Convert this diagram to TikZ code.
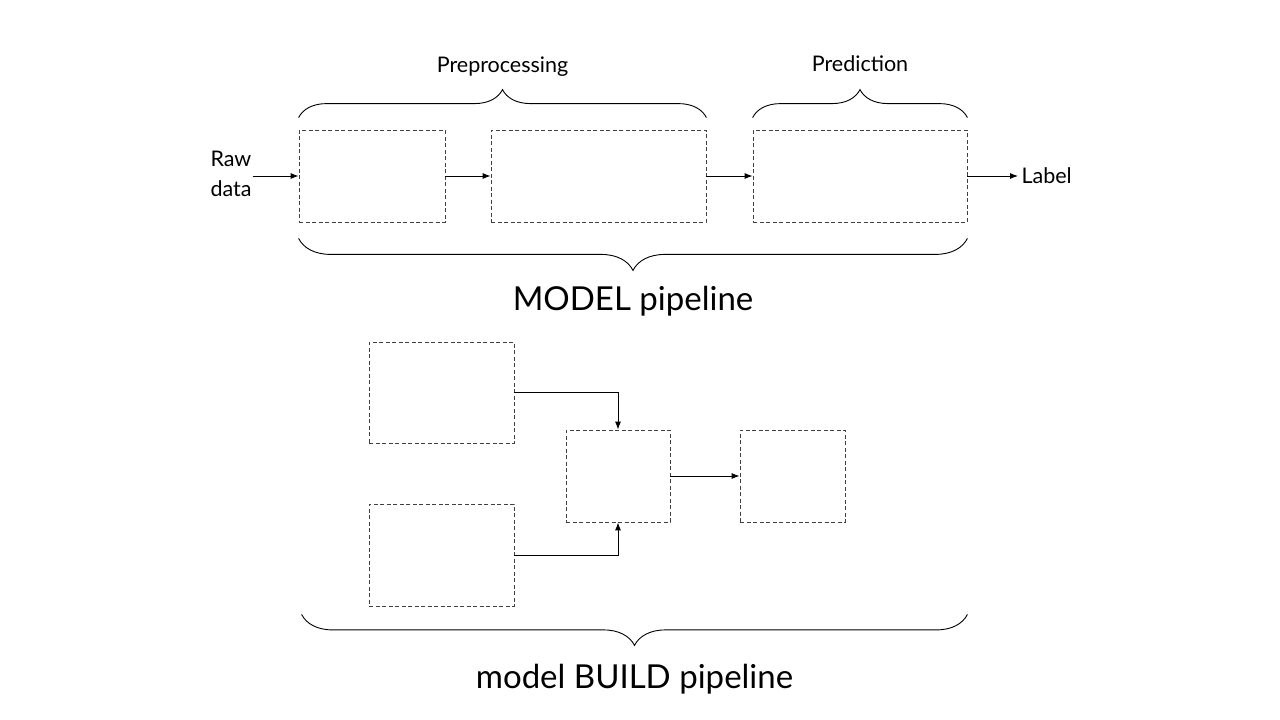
\documentclass[tikz,border=0pt]{standalone}
\usepackage{fontspec}
\setmainfont{Lato}
\usetikzlibrary{arrows.meta, positioning, calc, decorations.pathreplacing}

\begin{document}
\begin{tikzpicture}[
			x=1pt, y=-1pt,
			stage/.style={draw=black!75, dash pattern=on 4pt off 2.5pt, line width=0.8pt, inner sep=0pt},
			flow/.style={-{Latex[length=8pt, width=6pt]}, line width=0.9pt},
			curly/.style={decorate, decoration={brace, amplitude=#1}, line width=0.9pt},
			small/.style={font=\fontsize{21.5}{30}\selectfont},
			caption/.style={font=\fontsize{33}{38}\selectfont}
		]
		\useasboundingbox (0,0) rectangle (1280,720);

		\node[stage, minimum width=146, minimum height=92] (clean) at (372,176) {};
		\node[stage, minimum width=215, minimum height=92] (feat) at (598.5,176) {};
		\node[stage, minimum width=214, minimum height=92] (pred) at (860,176) {};
		\node[small, align=left, inner sep=1pt] (rawdata) at (231,174) {Raw\\data};
		\node[small, anchor=west] (label) at (1018,176) {Label};

		\draw[flow] (rawdata.east |- clean.west) -- (clean.west);
		\draw[flow] (clean) -- (feat);
		\draw[flow] (feat) -- (pred);
		\draw[flow] (pred.east) -- (label.west);

		\draw[curly=28pt] ([yshift=12pt]clean.north west) -- ([yshift=12pt]feat.north east)
			node[midway, above=45pt, anchor=base, small] {Preprocessing};
		\draw[curly=28pt] ([yshift=12pt]pred.north west) -- ([yshift=12pt]pred.north east)
			node[midway, above=46pt, anchor=base, small] {Prediction};
		\draw[curly=32pt] ([yshift=-16pt]pred.south east) -- ([yshift=-16pt]clean.south west)
			node[midway, below=72pt, anchor=base, caption] {MODEL pipeline};

		\node[stage, minimum width=145, minimum height=101] (srcA) at (441.5,392.5) {};
		\node[stage, minimum width=145, minimum height=102] (srcB) at (441.5,555) {};
		\node[stage, minimum width=104, minimum height=92] (merge) at (618,476) {};
		\node[stage, minimum width=105, minimum height=92] (out) at (792.5,476) {};

		\draw[flow] (srcA.east) -| (merge.north);
		\draw[flow] (srcB.east) -| (merge.south);
		\draw[flow] (merge) -- (out);

		\draw[curly=31pt] ([yshift=-8pt]srcB.south -| pred.east) -- ([yshift=-8pt,xshift=3pt]srcB.south -| clean.west)
			node[midway, below=74pt, anchor=base, caption] {model BUILD pipeline};
	\end{tikzpicture}
\end{document}
